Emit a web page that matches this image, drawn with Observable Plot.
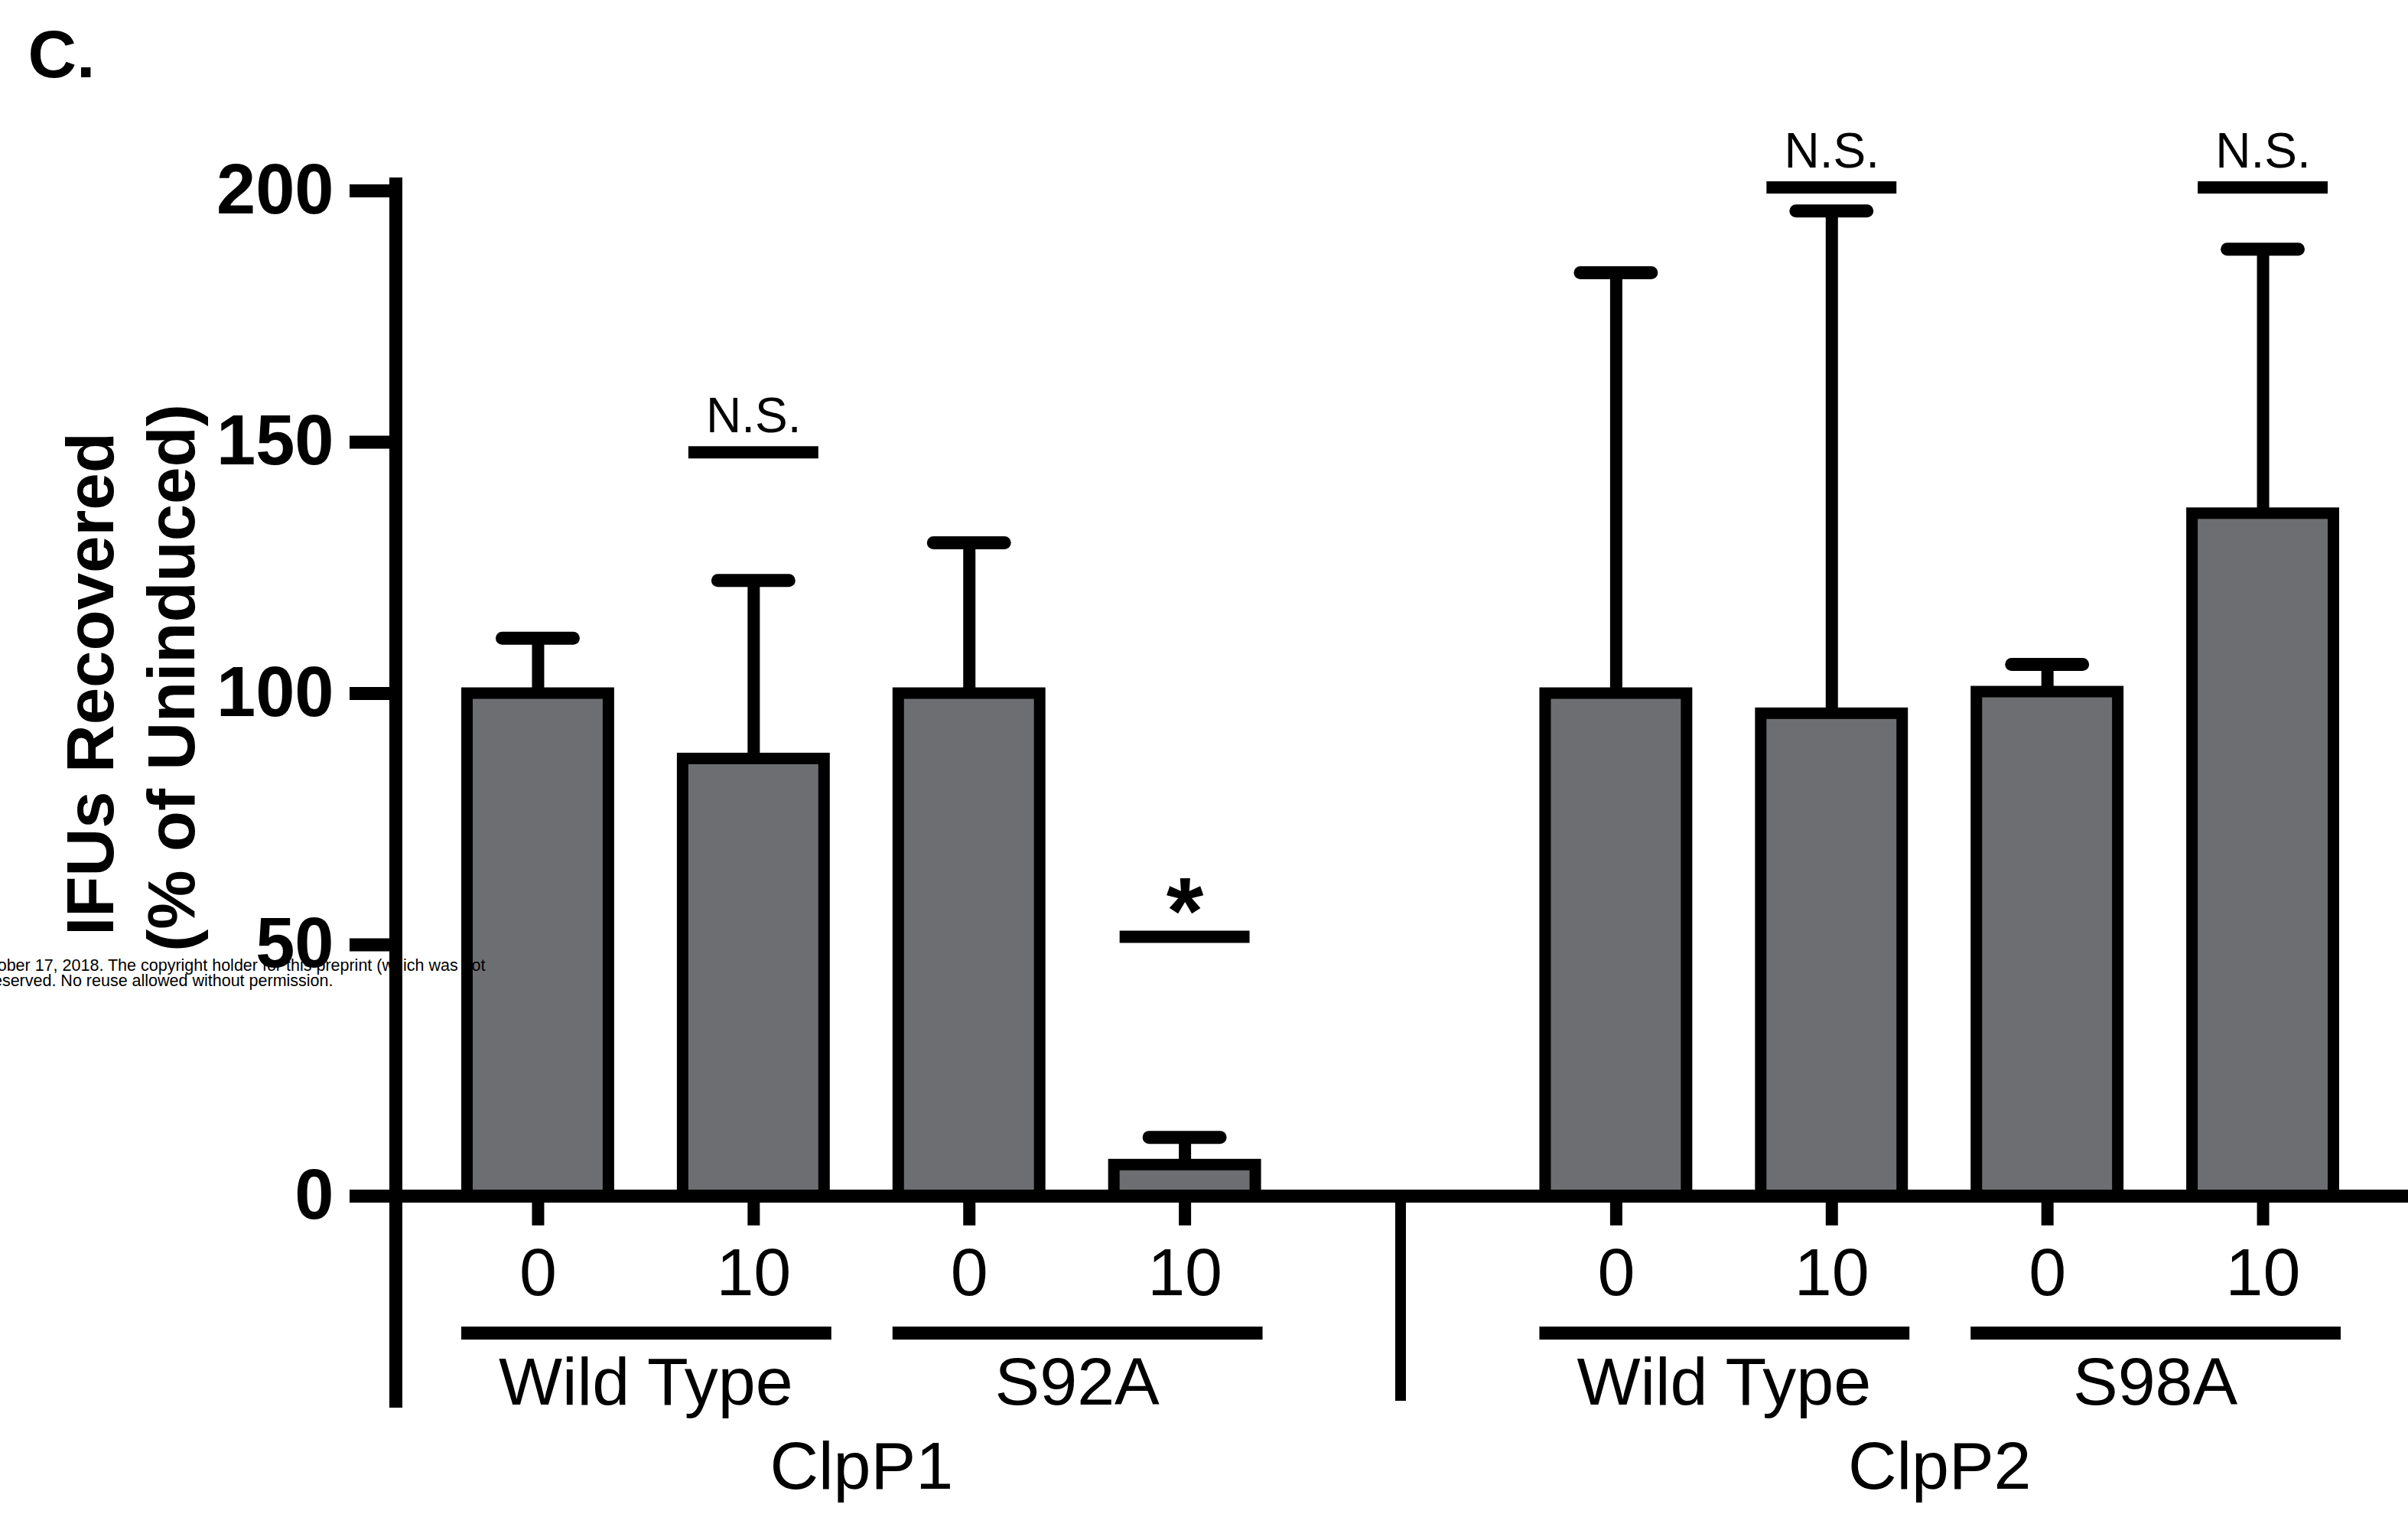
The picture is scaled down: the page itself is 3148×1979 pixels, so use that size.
<!DOCTYPE html>
<html>
<head>
<meta charset="utf-8">
<script src="https://cdn.jsdelivr.net/npm/d3@7"></script>
<script src="https://cdn.jsdelivr.net/npm/@observablehq/plot@0.6"></script>
<style>
  html, body { margin: 0; padding: 0; background: #fff; }
  body { width: 3148px; height: 1979px; overflow: hidden; }
  #chart svg { display: block; }
</style>
</head>
<body>
<div id="chart"></div>
<script>
// ---------------- data ----------------
const protein   = ["ClpP1", "ClpP1", "ClpP1", "ClpP1", "ClpP2", "ClpP2", "ClpP2", "ClpP2"];
const strain    = ["Wild Type", "Wild Type", "S92A", "S92A", "Wild Type", "Wild Type", "S98A", "S98A"];
const dose      = ["0", "10", "0", "10", "0", "10", "0", "10"];
const meanPct   = [100, 87, 100, 6.2, 100, 96, 100.3, 135.8];
const errUpper  = [111, 122.5, 130, 11.7, 183.7, 196, 105.8, 188.4];

const sigBarIndex = [1, 3, 5, 7];
const sigLabel    = ["N.S.", "*", "N.S.", "N.S."];
const sigLevel    = [148, 51.6, 200.7, 200.7];

const yTicks      = [0, 50, 100, 150, 200];
const yLabelLines = ["IFUs Recovered", "(% of Uninduced)"];
const panelLetter = "C.";
const watermark   = [
  "this version posted October 17, 2018. The copyright holder for this preprint (which was not",
  "certified by peer review) is the author/funder. All rights reserved. No reuse allowed without permission."
];

// ---------------- derived tables ----------------
const slot = protein.map((p, i) => `${p} ${strain[i]} ${dose[i]}`);
const bars = slot.map((s, i) => ({slot: s, protein: protein[i], strain: strain[i], dose: dose[i], mean: meanPct[i], upper: errUpper[i]}));
const SEP = "separator";
const xDomain = [...slot.slice(0, 4), SEP, ...slot.slice(4)];
const sigs = sigBarIndex.map((b, k) => ({slot: slot[b], label: sigLabel[k], level: sigLevel[k]}));
const strainGroups = d3.groups(bars, d => d.protein + "|" + d.strain)
  .map(([, g]) => ({label: g[0].strain, first: g[0].slot, last: g[g.length - 1].slot}));
const proteinGroups = d3.groups(bars, d => d.protein)
  .map(([p, g]) => ({label: p, mid: g[g.length / 2 - 1].slot}));

// ---------------- layout ----------------
const W = 3148, H = 1979;
const X_RANGE = [562, 3099];
const STEP = (X_RANGE[1] - X_RANGE[0]) / xDomain.length;
const Y_RANGE = [1563, 249];
const AXIS_LOW = -40.8;       // lower extent of y-axis & separator (data units)
const DOSE_TICK_LOW = -5.9;   // x tick length below baseline (data units)
const FONT = "'Liberation Sans', Arial, Helvetica, sans-serif";
const GREY = "#6d6e72";

const chart = Plot.plot({
  width: W,
  height: H,
  marginLeft: 517,
  marginRight: 0,
  marginTop: 240,
  marginBottom: 148,
  style: {fontFamily: FONT, background: "#fff", color: "#000"},
  x: {type: "band", domain: xDomain, range: X_RANGE, padding: 0, round: false, axis: null},
  y: {domain: [0, 200], range: Y_RANGE, axis: null},
  marks: [
    // y axis line and ticks
    Plot.frame({anchor: "left", stroke: "black", strokeWidth: 17}),
    Plot.axisY({ticks: yTicks, tickSize: 60, tickPadding: 21, fontSize: 92, fontWeight: "bold",
                stroke: "black", strokeWidth: 17, label: null}),
    // error bars
    Plot.ruleX(bars, {x: "slot", y1: "mean", y2: "upper", stroke: "black", strokeWidth: 16}),
    Plot.tickY(bars, {x: "slot", y: "upper", insetLeft: 94.5, insetRight: 94.5, stroke: "black",
                      strokeWidth: 17, strokeLinecap: "round"}),
    // bars
    Plot.barY(bars, {x: "slot", y: "mean", fill: GREY, stroke: "black", strokeWidth: 15,
                     insetLeft: 48.5, insetRight: 48.5}),
    // baseline
    Plot.ruleY([0], {stroke: "black", strokeWidth: 17}),
    // x ticks under baseline
    Plot.ruleX(bars, {x: "slot", y1: 0, y2: DOSE_TICK_LOW, stroke: "black", strokeWidth: 16}),
    // separator between ClpP1 and ClpP2
    Plot.ruleX([SEP], {x: d => d, y1: 0, y2: AXIS_LOW, stroke: "black", strokeWidth: 14}),
    // significance bars and labels
    Plot.tickY(sigs, {x: "slot", y: "level", insetLeft: 56, insetRight: 56, stroke: "black", strokeWidth: 16}),
    Plot.text(sigs.filter(d => d.label !== "*"), {x: "slot", y: "level", text: "label", dy: -26,
              lineAnchor: "bottom", fontSize: 64}),
    Plot.text(sigs.filter(d => d.label === "*"), {x: "slot", y: "level", text: "label", dy: 10,
              lineAnchor: "bottom", fontSize: 125, fontWeight: "bold"}),
    // dose labels
    Plot.text(bars, {x: "slot", y: 0, text: "dose", dy: 129, lineAnchor: "bottom", fontSize: 88}),
    // strain underline + labels
    Plot.ruleY(strainGroups, {x1: "first", x2: "last", y: 0, dy: 179, insetLeft: 41, insetRight: 39,
                              stroke: "black", strokeWidth: 17}),
    Plot.text(strainGroups, {x: "first", y: 0, dx: STEP / 2, dy: 272, text: "label",
                             lineAnchor: "bottom", fontSize: 88}),
    // protein labels
    Plot.text(proteinGroups, {x: "mid", y: 0, dx: STEP / 2, dy: 382, text: "label",
                              lineAnchor: "bottom", fontSize: 88}),
    // y-axis title (two bold lines)
    Plot.text([yLabelLines[0]], {frameAnchor: "left", rotate: -90, dx: -370, dy: -142,
              textAnchor: "middle", lineAnchor: "bottom", fontSize: 87, fontWeight: "bold"}),
    Plot.text([yLabelLines[1]], {frameAnchor: "left", rotate: -90, dx: -264, dy: -150,
              textAnchor: "middle", lineAnchor: "bottom", fontSize: 87, fontWeight: "bold"}),
    // panel letter
    Plot.text([panelLetter], {frameAnchor: "top-left", dx: -481, dy: -140, textAnchor: "start",
              lineAnchor: "bottom", fontSize: 88, fontWeight: "bold"}),
    // preprint watermark (cut at the left edge)
    Plot.text([watermark[0]], {frameAnchor: "top-left", dx: 117, dy: 1028, textAnchor: "end",
              lineAnchor: "bottom", fontSize: 21.5}),
    Plot.text([watermark[1]], {frameAnchor: "top-left", dx: -82, dy: 1048, textAnchor: "end",
              lineAnchor: "bottom", fontSize: 21.5})
  ]
});
document.getElementById("chart").appendChild(chart);
</script>
</body>
</html>
